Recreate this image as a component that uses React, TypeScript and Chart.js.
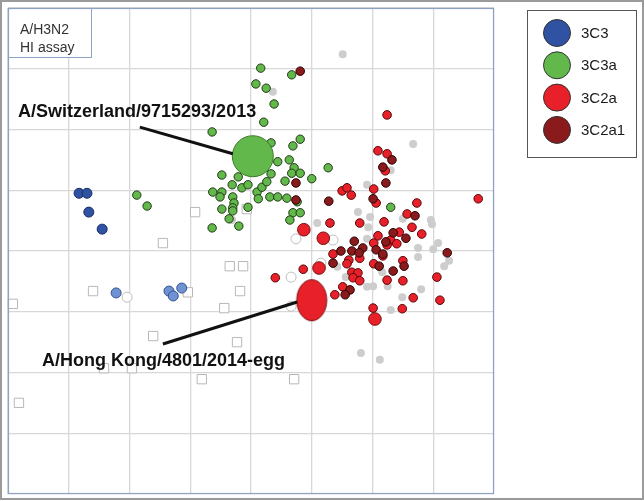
import React, { useEffect, useRef } from "react";
import { Chart, registerables } from "chart.js";

Chart.register(...registerables);

// ---- DATA (antigenic units; x to the right, y upwards) ----
const axisRange = [0, 8];
const legendLabels = ["3C3", "3C3a", "3C2a", "3C2a1"];
const boxLines = ["A/H3N2", "HI assay"];

const sera: [number, number][] = [
  [2.55, 4.13], [3.08, 4.64], [3.93, 4.69], [3.65, 3.75], [3.87, 3.75], [1.4, 3.34],
  [0.08, 3.13], [2.96, 3.32], [3.82, 3.34], [3.56, 3.06], [2.39, 2.6], [3.77, 2.5],
  [1.58, 2.07], [2.04, 2.07], [3.19, 1.89], [4.71, 1.89], [0.18, 1.5],
];

const otherAntigens: [number, number][] = [
  [5.51, 7.24], [4.36, 6.62], [6.67, 5.76], [6.3, 5.33], [5.91, 5.09], [5.76, 4.64],
  [5.96, 4.56], [5.09, 4.46], [5.93, 4.39], [6.5, 4.53], [6.96, 4.51], [6.98, 4.44],
  [5.91, 4.2], [7.08, 4.13], [6.75, 4.05], [7.0, 4.03], [7.26, 3.84], [7.18, 3.75],
  [6.75, 3.9], [5.42, 3.74], [6.16, 3.65], [5.56, 3.57], [5.91, 3.41], [6.01, 3.42],
  [6.25, 3.42], [6.8, 3.37], [6.49, 3.24], [6.3, 3.03], [5.81, 2.32], [6.12, 2.21],
  [3.69, 4.51],
];

const openAntigens: [number, number][] = [
  [4.74, 4.2], [5.35, 4.18], [4.66, 3.57], [5.15, 3.8], [1.96, 3.24], [4.66, 3.09],
];

const clade3C3: [number, number][] = [
  [1.17, 4.95], [1.3, 4.95], [1.33, 4.64], [1.55, 4.36],
];

const clade3C3Older: [number, number][] = [
  [1.78, 3.31], [2.65, 3.34], [2.72, 3.26], [2.86, 3.39],
];

const clade3C3a: [number, number][] = [
  [2.12, 4.92], [2.29, 4.74], [3.36, 5.96], [4.16, 7.01], [4.08, 6.75], [4.25, 6.68],
  [4.38, 6.42], [4.21, 6.12], [4.67, 6.9], [4.81, 5.84], [4.69, 5.73], [4.33, 5.78],
  [4.44, 5.47], [4.63, 5.5], [4.71, 5.37], [4.67, 5.28], [4.81, 5.28], [5.0, 5.19],
  [4.56, 5.15], [3.52, 5.25], [3.79, 5.22], [3.37, 4.97], [3.52, 4.97], [3.49, 4.89],
  [3.7, 4.89], [3.69, 5.09], [3.85, 5.04], [3.95, 5.09], [4.1, 4.97], [4.18, 5.05],
  [4.26, 5.14], [4.33, 5.27], [4.12, 4.86], [4.31, 4.89], [4.44, 4.89], [4.59, 4.87],
  [4.76, 4.81], [3.72, 4.79], [3.7, 4.71], [3.7, 4.66], [3.52, 4.69], [4.69, 4.63],
  [4.81, 4.63], [4.64, 4.51], [3.64, 4.53], [3.8, 4.41], [3.36, 4.38], [5.27, 5.37],
  [3.95, 4.72], [6.3, 4.72],
];

const clade3C2a: [number, number][] = [
  [6.24, 6.24], [6.09, 5.65], [6.24, 5.6], [6.21, 5.32], [5.5, 4.99], [5.58, 5.04],
  [5.65, 4.92], [6.02, 5.02], [6.06, 4.79], [6.73, 4.79], [7.74, 4.86], [5.3, 4.46],
  [5.79, 4.46], [6.19, 4.48], [6.57, 4.61], [6.65, 4.39], [6.09, 4.25], [6.44, 4.31],
  [6.3, 4.18], [6.24, 4.1], [6.02, 4.13], [6.81, 4.28], [5.35, 3.95], [5.79, 3.88],
  [5.61, 3.85], [5.58, 3.79], [6.02, 3.79], [6.17, 3.92], [6.5, 3.84], [4.86, 3.7],
  [5.66, 3.65], [5.76, 3.64], [5.68, 3.56], [5.79, 3.51], [6.24, 3.52], [6.5, 3.51],
  [7.06, 3.57], [5.51, 3.41], [5.38, 3.28], [6.67, 3.23], [7.11, 3.19], [6.01, 3.06],
  [6.49, 3.05], [4.4, 3.56], [6.4, 4.12],
];

const clade3C2aLarge: [number, number][] = [
  [4.87, 4.35], [5.19, 4.21], [5.12, 3.72], [6.04, 2.88],
];

const clade3C2a1: [number, number][] = [
  [4.81, 6.96], [6.32, 5.5], [6.17, 5.38], [6.22, 5.12], [5.28, 4.82], [6.01, 4.86],
  [6.7, 4.58], [4.74, 5.12], [4.74, 4.84], [5.7, 4.16], [6.22, 4.15], [6.34, 4.3],
  [6.55, 4.21], [5.48, 4.0], [5.66, 4.0], [5.84, 4.05], [6.06, 4.02], [6.17, 3.95],
  [7.23, 3.97], [5.35, 3.8], [6.11, 3.75], [6.34, 3.67], [5.63, 3.36], [5.55, 3.28],
  [6.52, 3.75], [5.78, 3.97],
];

const vaccineSwitzerland: [number, number][] = [[4.03, 5.56]];
const vaccineHongKong: [number, number][] = [[5.0, 3.19]];

const annotationNames = ["A/Switzerland/9715293/2013", "A/Hong Kong/4801/2014-egg"];
const annotationTextAt: [number, number][] = [[0.165, 6.29], [0.56, 2.19]];
const annotationLineFrom: [number, number][] = [[2.17, 6.04], [2.55, 2.47]];
const annotationLineTo: [number, number][] = [[3.7, 5.6], [4.76, 3.16]];

// ---- COLOURS ----
const BLUE = "#2f52a2";
const LIGHT_BLUE = "#6f93d2";
const GREEN = "#62b84a";
const RED = "#e8202a";
const DARK_RED = "#8a1a1c";
const GRAY = "#cdcdcd";
const FONT = 'Arial, "Liberation Sans", sans-serif';

const toPts = (a: [number, number][]) => a.map(([x, y]) => ({ x, y }));

function makeEllipse(): HTMLCanvasElement {
  const c = document.createElement("canvas");
  c.width = 34;
  c.height = 46;
  const g = c.getContext("2d")!;
  g.beginPath();
  g.ellipse(17, 23, 15, 20.5, 0, 0, Math.PI * 2);
  g.fillStyle = RED;
  g.fill();
  g.lineWidth = 1;
  g.strokeStyle = "#7a1010";
  g.stroke();
  return c;
}

const framePlugin = {
  id: "frame",
  beforeDraw(chart: any) {
    const { ctx, width, height } = chart;
    ctx.save();
    ctx.fillStyle = "#ffffff";
    ctx.fillRect(0, 0, width, height);
    ctx.restore();
  },
  afterDraw(chart: any) {
    const { ctx, chartArea, width, height } = chart;
    const { left, top, right, bottom } = chartArea;
    ctx.save();
    // plot border
    ctx.strokeStyle = "#8ea2c4";
    ctx.lineWidth = 1.2;
    ctx.strokeRect(left + 0.5, top + 0.5, right - left - 1, bottom - top - 1);
    // outer frame
    ctx.strokeStyle = "#9a9a9a";
    ctx.lineWidth = 2;
    ctx.strokeRect(1, 1, width - 2, height - 3);
    // legend box
    const lx = 527, ly = 10, lw = 109, lh = 147;
    ctx.fillStyle = "#ffffff";
    ctx.fillRect(lx, ly, lw, lh);
    ctx.strokeStyle = "#555555";
    ctx.lineWidth = 1;
    ctx.strokeRect(lx + 0.5, ly + 0.5, lw, lh);
    legendLabels.forEach((lab, i) => {
      const ds = chart.data.datasets.find((d: any) => d.label === lab);
      const cy = 33 + i * 32.3;
      ctx.beginPath();
      ctx.arc(557, cy, 13.5, 0, Math.PI * 2);
      ctx.fillStyle = ds ? ds.backgroundColor : "#000";
      ctx.fill();
      ctx.strokeStyle = "#333333";
      ctx.lineWidth = 1;
      ctx.stroke();
      ctx.fillStyle = "#1a1a1a";
      ctx.font = `15px ${FONT}`;
      ctx.textBaseline = "middle";
      ctx.textAlign = "left";
      ctx.fillText(lab, 581, cy + 1);
    });
    ctx.restore();
  },
  afterDatasetsDraw(chart: any) {
    const { ctx, chartArea, scales } = chart;
    const xs = scales.x, ys = scales.y;
    ctx.save();
    // top-left label box
    ctx.fillStyle = "#ffffff";
    ctx.fillRect(chartArea.left, chartArea.top, 83, 49);
    ctx.strokeStyle = "#8ea2c4";
    ctx.lineWidth = 1;
    ctx.strokeRect(chartArea.left + 0.5, chartArea.top + 0.5, 83, 49);
    ctx.fillStyle = "#333333";
    ctx.font = `14px ${FONT}`;
    ctx.textBaseline = "middle";
    ctx.textAlign = "left";
    boxLines.forEach((t, i) => ctx.fillText(t, chartArea.left + 12, chartArea.top + 22 + i * 18));
    // annotations
    annotationNames.forEach((name, i) => {
      const [fx, fy] = annotationLineFrom[i];
      const [tx, ty] = annotationLineTo[i];
      ctx.beginPath();
      ctx.moveTo(xs.getPixelForValue(fx), ys.getPixelForValue(fy));
      ctx.lineTo(xs.getPixelForValue(tx), ys.getPixelForValue(ty));
      ctx.strokeStyle = "#111111";
      ctx.lineWidth = 3;
      ctx.stroke();
      const [px, py] = annotationTextAt[i];
      ctx.fillStyle = "#111111";
      ctx.font = `bold 18px ${FONT}`;
      ctx.textBaseline = "middle";
      ctx.fillText(name, xs.getPixelForValue(px), ys.getPixelForValue(py));
    });
    ctx.restore();
  },
};

export default function App() {
  const ref = useRef<HTMLCanvasElement | null>(null);
  useEffect(() => {
    document.body.style.margin = "0";
    const canvas = ref.current!;
    const ellipse = makeEllipse();
    const common = { showLine: false, clip: false as any };
    const chart = new Chart(canvas, {
      type: "scatter",
      data: {
        datasets: [
          { ...common, label: "HK ref", data: toPts(vaccineHongKong), pointStyle: ellipse as any, pointRadius: 20, backgroundColor: RED, borderColor: "#7a1010" },
          { ...common, label: "CH ref", data: toPts(vaccineSwitzerland), pointRadius: 20.5, backgroundColor: GREEN, borderColor: "#3d7a2a", borderWidth: 1 },
          { ...common, label: "3C2a1", data: toPts(clade3C2a1), pointRadius: 4.3, backgroundColor: DARK_RED, borderColor: "#2a0505", borderWidth: 1 },
          { ...common, label: "3C2a", data: toPts(clade3C2a), pointRadius: 4.3, backgroundColor: RED, borderColor: "#5a0808", borderWidth: 1 },
          { ...common, label: "3C2a large", data: toPts(clade3C2aLarge), pointRadius: 6.3, backgroundColor: RED, borderColor: "#7a1010", borderWidth: 1 },
          { ...common, label: "3C3a", data: toPts(clade3C3a), pointRadius: 4.2, backgroundColor: GREEN, borderColor: "#1f3a15", borderWidth: 1 },
          { ...common, label: "3C3", data: toPts(clade3C3), pointRadius: 5, backgroundColor: BLUE, borderColor: "#1a2d66", borderWidth: 1 },
          { ...common, label: "3C3 older", data: toPts(clade3C3Older), pointRadius: 5, backgroundColor: LIGHT_BLUE, borderColor: "#35548f", borderWidth: 1 },
          { ...common, label: "open", data: toPts(openAntigens), pointRadius: 5, backgroundColor: "#ffffff", borderColor: "#c0c0c0", borderWidth: 1 },
          { ...common, label: "other", data: toPts(otherAntigens), pointRadius: 4, backgroundColor: GRAY, borderColor: GRAY, borderWidth: 0 },
          { ...common, label: "sera", data: toPts(sera), pointStyle: "rect", pointRadius: 6.6, backgroundColor: "#ffffff", borderColor: "#b8b8b8", borderWidth: 1 },
        ] as any,
      },
      options: {
        responsive: false,
        animation: false,
        events: [],
        layout: { autoPadding: false, padding: { left: 8, top: 8, right: 150, bottom: 7 } },
        plugins: { legend: { display: false }, tooltip: { enabled: false } },
        scales: {
          x: {
            type: "linear", min: axisRange[0], max: axisRange[1],
            ticks: { display: false, stepSize: 1 },
            grid: { color: "#d8d8d8", lineWidth: 1.3, drawTicks: false },
            border: { display: false },
          },
          y: {
            type: "linear", min: axisRange[0], max: axisRange[1],
            ticks: { display: false, stepSize: 1 },
            grid: { color: "#d8d8d8", lineWidth: 1.3, drawTicks: false },
            border: { display: false },
          },
        },
      },
      plugins: [framePlugin],
    });
    return () => chart.destroy();
  }, []);
  return <canvas ref={ref} width={644} height={501} style={{ display: "block", width: 644, height: 501 }} />;
}
